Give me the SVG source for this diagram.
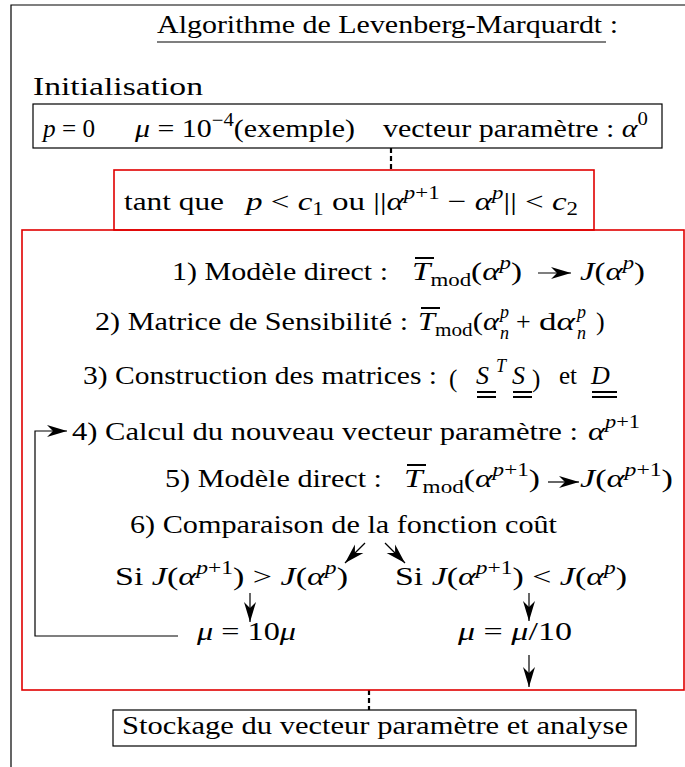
<svg xmlns="http://www.w3.org/2000/svg" width="685" height="767" viewBox="0 0 685 767">
<defs>
<style>
text{font-family:"Liberation Serif","DejaVu Serif",serif;font-size:25px;fill:#000}
.m{font-size:26px}
.i{font-style:italic}
.s{font-size:18px}
.ln{stroke:#000;stroke-width:1.2;fill:none}
.red{stroke:#e00000;stroke-width:1.6;fill:none}
.box{stroke:#000;stroke-width:1.2;fill:#fff}
.dash{stroke:#000;stroke-width:2.2;stroke-dasharray:5,3;fill:none}
.bar{stroke:#000;stroke-width:2}
</style>
<marker id="ah" markerUnits="userSpaceOnUse" markerWidth="22" markerHeight="14" refX="20" refY="7" orient="auto">
<path d="M0,1 L20,7 L0,13 L6,7 z" fill="#000"/>
</marker>
</defs>
<g id="frame">
<path d="M11,767 L11,5 L685,5" class="ln" stroke-width="1.5"/>
</g>
<g id="title">
<text x="157" y="33" textLength="461" lengthAdjust="spacingAndGlyphs">Algorithme de Levenberg-Marquardt :</text>
<line x1="157" y1="42" x2="606" y2="42" class="ln"/>
</g>
<g id="init">
<text x="33" y="95" font-size="28" textLength="170" lengthAdjust="spacingAndGlyphs">Initialisation</text>
<rect x="33" y="104" width="629" height="44" class="box"/>
<text x="43" y="137" class="m" textLength="52" lengthAdjust="spacingAndGlyphs"><tspan class="i">p</tspan> = 0</text>
<text x="135" y="137" class="m" textLength="220" lengthAdjust="spacingAndGlyphs"><tspan class="i">μ</tspan> = 10<tspan class="s" dy="-11">−4</tspan><tspan dy="11">(exemple)</tspan></text>
<text x="383" y="137" class="m" textLength="265" lengthAdjust="spacingAndGlyphs">vecteur paramètre : <tspan class="i">α</tspan><tspan class="s" dy="-12">0</tspan></text>
</g>
<g id="connectors">
<line x1="391" y1="148" x2="391" y2="170" class="dash"/>
<line x1="369" y1="690" x2="369" y2="710" class="dash"/>
<line x1="538" y1="273" x2="571" y2="273" class="ln" marker-end="url(#ah)"/>
<line x1="548" y1="482" x2="579" y2="482" class="ln" marker-end="url(#ah)"/>
<path d="M178,636 L35,636 L35,431 L67,431" class="ln" marker-end="url(#ah)"/>
<line x1="365" y1="543" x2="345" y2="563" class="ln" marker-end="url(#ah)"/>
<line x1="385" y1="543" x2="405" y2="563" class="ln" marker-end="url(#ah)"/>
<line x1="250" y1="593" x2="250" y2="622" class="ln" marker-end="url(#ah)"/>
<line x1="529" y1="593" x2="529" y2="621" class="ln" marker-end="url(#ah)"/>
<line x1="529" y1="655" x2="529" y2="687" class="ln" marker-end="url(#ah)"/>
</g>
<g id="loop">
<rect x="114" y="170" width="480" height="60" class="red" fill="#fff"/>
<text x="124" y="210" textLength="100" lengthAdjust="spacingAndGlyphs">tant que</text>
<text x="246" y="210" class="m" textLength="332" lengthAdjust="spacingAndGlyphs"><tspan class="i">p</tspan> &lt; <tspan class="i">c</tspan><tspan class="s" dy="5">1</tspan><tspan dy="-5"> ou ||</tspan><tspan class="i">α</tspan><tspan class="s" dy="-11"><tspan class="i">p</tspan>+1</tspan><tspan dy="11"> − </tspan><tspan class="i">α</tspan><tspan class="s i" dy="-11">p</tspan><tspan dy="11">|| &lt; </tspan><tspan class="i">c</tspan><tspan class="s" dy="5">2</tspan></text>
<rect x="22" y="230" width="662" height="460" class="red"/>
</g>
<g id="step1">
<text x="172" y="280" textLength="216" lengthAdjust="spacingAndGlyphs">1) Modèle direct :</text>
<line x1="415" y1="258" x2="434" y2="258" class="bar"/>
<text x="412" y="280" class="m" textLength="110" lengthAdjust="spacingAndGlyphs"><tspan class="i">T</tspan><tspan class="s" dy="6">mod</tspan><tspan dy="-6">(</tspan><tspan class="i">α</tspan><tspan class="s i" dy="-11">p</tspan><tspan dy="11">)</tspan></text>
<text x="580" y="280" class="m" textLength="65" lengthAdjust="spacingAndGlyphs"><tspan class="i">J</tspan>(<tspan class="i">α</tspan><tspan class="s i" dy="-11">p</tspan><tspan dy="11">)</tspan></text>
</g>
<g id="step2">
<text x="95" y="330" textLength="313" lengthAdjust="spacingAndGlyphs">2) Matrice de Sensibilité :</text>
<line x1="421" y1="308" x2="440" y2="308" class="bar"/>
<text x="418" y="330" class="m" textLength="81" lengthAdjust="spacingAndGlyphs"><tspan class="i">T</tspan><tspan class="s" dy="6">mod</tspan><tspan dy="-6">(</tspan><tspan class="i">α</tspan></text>
<text x="500" y="318" class="s i">p</text>
<text x="500" y="339" class="s i">n</text>
<text x="516" y="330" class="m">+</text>
<text x="539" y="330" class="m" textLength="36" lengthAdjust="spacingAndGlyphs">d<tspan class="i">α</tspan></text>
<text x="577" y="318" class="s i">p</text>
<text x="577" y="339" class="s i">n</text>
<text x="596" y="330" class="m">)</text>
</g>
<g id="step3">
<text x="83" y="384" textLength="354" lengthAdjust="spacingAndGlyphs">3) Construction des matrices :</text>
<text x="449" y="387" font-size="31">(</text>
<text x="476" y="384" class="m i">S</text>
<text x="496" y="372" class="s i">T</text>
<text x="512" y="384" class="m i">S</text>
<text x="532" y="387" font-size="31">)</text>
<text x="559" y="384">et</text>
<text x="591" y="384" class="m i">D</text>
<path d="M477,392 H496 M477,397 H496 M513,392 H532 M513,397 H532 M592,392 H617 M592,397 H617" class="bar" stroke-width="1.8"/>
</g>
<g id="step4">
<text x="72" y="440" textLength="506" lengthAdjust="spacingAndGlyphs">4) Calcul du nouveau vecteur paramètre :</text>
<text x="588" y="440" class="m" textLength="52" lengthAdjust="spacingAndGlyphs"><tspan class="i">α</tspan><tspan class="s" dy="-12"><tspan class="i">p</tspan>+1</tspan></text>
</g>
<g id="step5">
<text x="165" y="487" textLength="217" lengthAdjust="spacingAndGlyphs">5) Modèle direct :</text>
<line x1="407" y1="465" x2="426" y2="465" class="bar"/>
<text x="404" y="487" class="m" textLength="136" lengthAdjust="spacingAndGlyphs"><tspan class="i">T</tspan><tspan class="s" dy="6">mod</tspan><tspan dy="-6">(</tspan><tspan class="i">α</tspan><tspan class="s" dy="-11"><tspan class="i">p</tspan>+1</tspan><tspan dy="11">)</tspan></text>
<text x="580" y="487" class="m" textLength="93" lengthAdjust="spacingAndGlyphs"><tspan class="i">J</tspan>(<tspan class="i">α</tspan><tspan class="s" dy="-11"><tspan class="i">p</tspan>+1</tspan><tspan dy="11">)</tspan></text>
</g>
<g id="step6">
<text x="130" y="533" textLength="427" lengthAdjust="spacingAndGlyphs">6) Comparaison de la fonction coût</text>
</g>
<g id="caseA">
<text x="115" y="585" class="m" textLength="233" lengthAdjust="spacingAndGlyphs">Si <tspan class="i">J</tspan>(<tspan class="i">α</tspan><tspan class="s" dy="-11"><tspan class="i">p</tspan>+1</tspan><tspan dy="11">) &gt; </tspan><tspan class="i">J</tspan>(<tspan class="i">α</tspan><tspan class="s i" dy="-11">p</tspan><tspan dy="11">)</tspan></text>
</g>
<g id="caseB">
<text x="395" y="585" class="m" textLength="232" lengthAdjust="spacingAndGlyphs">Si <tspan class="i">J</tspan>(<tspan class="i">α</tspan><tspan class="s" dy="-11"><tspan class="i">p</tspan>+1</tspan><tspan dy="11">) &lt; </tspan><tspan class="i">J</tspan>(<tspan class="i">α</tspan><tspan class="s i" dy="-11">p</tspan><tspan dy="11">)</tspan></text>
</g>
<g id="muA">
<text x="197" y="640" class="m" textLength="99" lengthAdjust="spacingAndGlyphs"><tspan class="i">μ</tspan> = 10<tspan class="i">μ</tspan></text>
</g>
<g id="muB">
<text x="458" y="640" class="m" textLength="114" lengthAdjust="spacingAndGlyphs"><tspan class="i">μ</tspan> = <tspan class="i">μ</tspan>/10</text>
</g>
<g id="final">
<rect x="113" y="710" width="523" height="36" class="box"/>
<text x="122" y="734" textLength="506" lengthAdjust="spacingAndGlyphs">Stockage du vecteur paramètre et analyse</text>
</g>
</svg>
